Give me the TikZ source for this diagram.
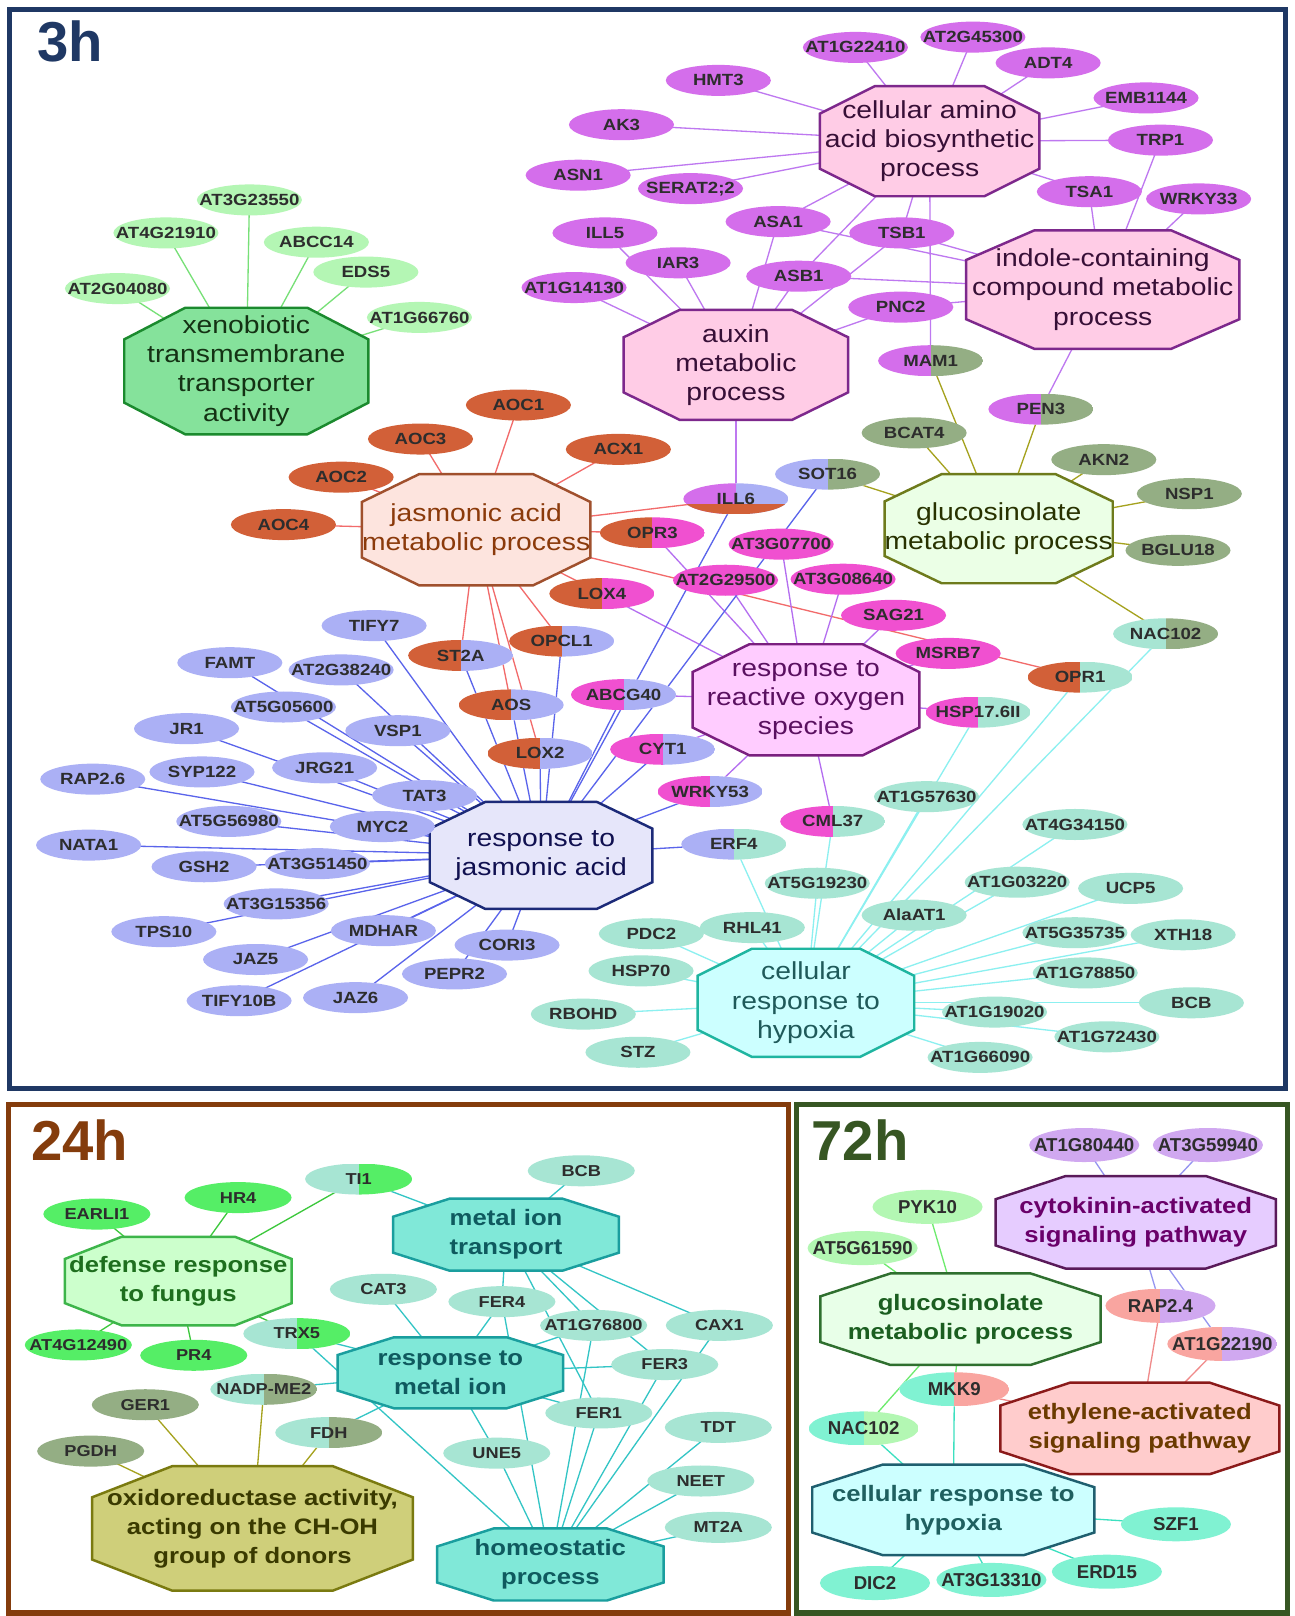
\documentclass[tikz,border=0pt]{standalone}
\usepackage{fontspec}
\setmainfont{Liberation Sans}
\newfontfamily\widesans[FakeStretch=1.15]{Liberation Sans}
\usetikzlibrary{shapes.geometric, calc}

\pgfdeclarelayer{bg}
\pgfdeclarelayer{edges}
\pgfdeclarelayer{octs}
\pgfsetlayers{bg,edges,octs,main}

% frame colours
\definecolor{navy}{RGB}{31,56,100}
\definecolor{brownfr}{RGB}{132,60,12}
\definecolor{greenfr}{RGB}{55,86,35}
\definecolor{genetxt}{RGB}{45,45,45}
% gene colours
\definecolor{purp}{RGB}{212,110,235}
\definecolor{xgreen}{RGB}{180,246,180}
\definecolor{orng}{RGB}{210,96,56}
\definecolor{mag}{RGB}{240,80,208}
\definecolor{lav}{RGB}{171,176,245}
\definecolor{aqgene}{RGB}{167,229,211}
\definecolor{sage}{RGB}{148,174,132}
\definecolor{brgreen}{RGB}{85,238,102}
\definecolor{lilac}{RGB}{208,168,240}
\definecolor{paleg}{RGB}{179,247,179}
\definecolor{salmon}{RGB}{249,165,160}
\definecolor{aqua}{RGB}{128,242,210}
% line colours
\definecolor{xenoln}{RGB}{119,224,119}
\definecolor{purpln}{RGB}{190,120,240}
\definecolor{redln}{RGB}{242,107,107}
\definecolor{oliveln}{RGB}{165,162,30}
\definecolor{violn}{RGB}{180,110,240}
\definecolor{blueln}{RGB}{90,100,235}
\definecolor{cyanln}{RGB}{140,240,240}
\definecolor{greenln}{RGB}{60,200,60}
\definecolor{tealln}{RGB}{51,197,197}
\definecolor{lilacln}{RGB}{150,150,240}
\definecolor{lgreenln}{RGB}{110,235,110}
\definecolor{salmonln}{RGB}{240,138,138}
\definecolor{aqualn}{RGB}{60,224,192}
% octagon colours
\definecolor{pinkfill}{RGB}{255,204,230}\definecolor{pinkbd}{RGB}{125,40,140}\definecolor{pinktx}{RGB}{55,15,55}
\definecolor{xenofill}{RGB}{133,226,155}\definecolor{xenobd}{RGB}{27,138,46}\definecolor{xenotx}{RGB}{20,50,20}
\definecolor{jamfill}{RGB}{253,228,222}\definecolor{jambd}{RGB}{160,80,45}\definecolor{jamtx}{RGB}{139,58,11}
\definecolor{glufill}{RGB}{235,255,230}\definecolor{glubd}{RGB}{110,123,28}\definecolor{glutx}{RGB}{40,50,0}
\definecolor{rosfill}{RGB}{255,204,255}\definecolor{rosbd}{RGB}{122,31,127}\definecolor{rostx}{RGB}{90,16,96}
\definecolor{rjafill}{RGB}{230,230,250}\definecolor{rjabd}{RGB}{28,42,120}\definecolor{rjatx}{RGB}{16,16,80}
\definecolor{hypfill}{RGB}{204,255,255}\definecolor{hypbd}{RGB}{31,181,160}\definecolor{hyptx}{RGB}{31,90,90}
\definecolor{drffill}{RGB}{204,255,204}\definecolor{drfbd}{RGB}{61,181,74}\definecolor{drftx}{RGB}{30,110,30}
\definecolor{metfill}{RGB}{128,232,216}\definecolor{metbd}{RGB}{26,158,158}\definecolor{mettx}{RGB}{15,90,95}
\definecolor{oxrfill}{RGB}{207,207,122}\definecolor{oxrbd}{RGB}{122,122,16}\definecolor{oxrtx}{RGB}{58,58,0}
\definecolor{cytfill}{RGB}{230,204,255}\definecolor{cytbd}{RGB}{90,26,90}\definecolor{cyttx}{RGB}{106,0,106}
\definecolor{gsfill}{RGB}{232,255,232}\definecolor{gsbd}{RGB}{47,111,47}\definecolor{gstx}{RGB}{27,94,32}
\definecolor{ethfill}{RGB}{255,204,204}\definecolor{ethbd}{RGB}{139,26,26}\definecolor{ethtx}{RGB}{107,58,0}
\definecolor{hxfill}{RGB}{204,255,255}\definecolor{hxbd}{RGB}{31,95,111}\definecolor{hxtx}{RGB}{31,96,96}

\tikzset{
  gene/.style={ellipse, fill=#1, minimum width=2.1cm, minimum height=0.62cm,
    inner xsep=-2cm, inner ysep=0pt, outer sep=0pt, text=genetxt,
    font=\widesans\bfseries\fontsize{9.2}{9.2}\selectfont},
  split/.style 2 args={gene=white, path picture={
    \fill[#1] (path picture bounding box.south west) rectangle (path picture bounding box.north);
    \fill[#2] (path picture bounding box.south) rectangle (path picture bounding box.north east);}},
  g24/.style={minimum width=2.14cm, minimum height=0.62cm, font=\widesans\bfseries\fontsize{9}{9}\selectfont},
  g72/.style={minimum width=2.2cm, minimum height=0.68cm, font=\bfseries\fontsize{10.6}{10.6}\selectfont},
  proc/.style={rectangle, inner sep=0pt, outer sep=0pt, align=center,
    font=\widesans\fontsize{14}{16.6}\selectfont},
  procb/.style={proc, font=\widesans\bfseries\fontsize{12.7}{16.5}\selectfont},
  link/.style={draw=#1, line width=0.75pt},
  title/.style={anchor=base west, inner sep=0pt, text=#1, font=\bfseries\fontsize{32}{32}\selectfont}
}

% octagon round a named node: name, fill, border
\newcommand{\octo}[3]{%
  \begin{pgfonlayer}{octs}
  \path[fill=#2, draw=#3, line width=1.4pt]
    ($(#1.north west)!.25!(#1.north east)$) -- ($(#1.north west)!.75!(#1.north east)$)
    -- ($(#1.north east)!.25!(#1.south east)$) -- ($(#1.north east)!.75!(#1.south east)$)
    -- ($(#1.south east)!.25!(#1.south west)$) -- ($(#1.south east)!.75!(#1.south west)$)
    -- ($(#1.south west)!.25!(#1.north west)$) -- ($(#1.south west)!.75!(#1.north west)$) -- cycle;
  \end{pgfonlayer}}

\begin{document}
\begin{tikzpicture}[x=0.0206cm, y=-0.0206cm]
  \useasboundingbox (0,0) rectangle (1256,1568);
  \begin{pgfonlayer}{bg}
    \fill[white] (0,0) rectangle (1256,1568);
  \end{pgfonlayer}

  % Panel frames and titles
  \draw[line width=3pt, navy] (9,9) rectangle (1247,1056);
  \draw[line width=3pt, brownfr] (8,1072) rectangle (765,1565);
  \draw[line width=3pt, greenfr] (773,1072) rectangle (1249,1565);
  \node[title=navy] (t3) at (36,60) {3h};
  \node[title=brownfr] (t24) at (30,1126) {24h};
  \node[title=greenfr] (t72) at (787,1126) {72h};

  % ---------------- 3h ----------------
  % Process octagons
  \node[proc, text=pinktx, minimum width=4.39cm, minimum height=2.20cm] (aa) at (902,137) {cellular amino\\acid biosynthetic\\process};
  \octo{aa}{pinkfill}{pinkbd}
  \node[proc, text=pinktx, minimum width=5.46cm, minimum height=2.37cm] (ind) at (1070,281) {indole-containing\\compound metabolic\\process};
  \octo{ind}{pinkfill}{pinkbd}
  \node[proc, text=pinktx, minimum width=4.49cm, minimum height=2.20cm] (aux) at (714,354) {auxin\\metabolic\\process};
  \octo{aux}{pinkfill}{pinkbd}
  \node[proc, text=xenotx, minimum width=4.88cm, minimum height=2.53cm] (xeno) at (239,360) {xenobiotic\\transmembrane\\transporter\\activity};
  \octo{xeno}{xenofill}{xenobd}
  \node[proc, text=jamtx, minimum width=4.57cm, minimum height=2.22cm] (jam) at (462,514) {jasmonic acid\\metabolic process};
  \octo{jam}{jamfill}{jambd}
  \node[proc, text=glutx, minimum width=4.53cm, minimum height=2.18cm] (glu) at (969,513) {glucosinolate\\metabolic process};
  \octo{glu}{glufill}{glubd}
  \node[proc, text=rostx, minimum width=4.53cm, minimum height=2.22cm] (ros) at (782,679) {response to\\reactive oxygen\\species};
  \octo{ros}{rosfill}{rosbd}
  \node[proc, text=rjatx, minimum width=4.45cm, minimum height=2.14cm] (rja) at (525,830) {response to\\jasmonic acid};
  \octo{rja}{rjafill}{rjabd}
  \node[proc, text=hyptx, minimum width=4.33cm, minimum height=2.16cm] (hyp) at (782,973) {cellular\\response to\\hypoxia};
  \octo{hyp}{hypfill}{hypbd}

  % Amino acid / indole / auxin genes
  \node[gene=purp] (at1g22410) at (830,46) {AT1G22410};
  \node[gene=purp] (at2g45300) at (944,36) {AT2G45300};
  \node[gene=purp] (adt4) at (1017,61) {ADT4};
  \node[gene=purp] (hmt3) at (697,78) {HMT3};
  \node[gene=purp] (emb1144) at (1112,95) {EMB1144};
  \node[gene=purp] (ak3) at (603,121) {AK3};
  \node[gene=purp] (trp1) at (1126,136) {TRP1};
  \node[gene=purp] (asn1) at (561,170) {ASN1};
  \node[gene=purp] (serat22) at (670,183) {SERAT2;2};
  \node[gene=purp] (tsa1) at (1057,186) {TSA1};
  \node[gene=purp] (wrky33) at (1163,193) {WRKY33};
  \node[gene=purp] (asa1) at (755,215) {ASA1};
  \node[gene=purp] (tsb1) at (875,226) {TSB1};
  \node[gene=purp] (ill5) at (587,226) {ILL5};
  \node[gene=purp] (iar3) at (658,255) {IAR3};
  \node[gene=purp] (asb1) at (775,268) {ASB1};
  \node[gene=purp] (at1g14130) at (557,279) {AT1G14130};
  \node[gene=purp] (pnc2) at (874,298) {PNC2};
  \node[split={purp}{sage}] (mam1) at (903,350) {MAM1};
  \node[split={purp}{sage}] (pen3) at (1010,397) {PEN3};

  % Xenobiotic genes
  \node[gene=xgreen] (at3g23550) at (242,194) {AT3G23550};
  \node[gene=xgreen] (at4g21910) at (161,226) {AT4G21910};
  \node[gene=xgreen] (abcc14) at (307,235) {ABCC14};
  \node[gene=xgreen] (eds5) at (355,264) {EDS5};
  \node[gene=xgreen] (at2g04080) at (114,280) {AT2G04080};
  \node[gene=xgreen] (at1g66760) at (407,308) {AT1G66760};

  % Jasmonic acid metabolic genes
  \node[gene=orng] (aoc1) at (503,393) {AOC1};
  \node[gene=orng] (aoc3) at (408,426) {AOC3};
  \node[gene=orng] (acx1) at (600,436) {ACX1};
  \node[gene=orng] (aoc2) at (331,463) {AOC2};
  \node[gene=orng] (aoc4) at (275,509) {AOC4};
  \node[gene=white, path picture={
      \fill[purp] (path picture bounding box.south west) rectangle (path picture bounding box.north);
      \fill[lav] (path picture bounding box.south) rectangle (path picture bounding box.north east);
      \fill[orng] (path picture bounding box.south west) rectangle ([yshift=-0.1cm]path picture bounding box.east);}]
    (ill6) at (714,484) {ILL6};
  \node[split={orng}{mag}] (opr3) at (633,517) {OPR3};
  \node[split={orng}{mag}] (lox4) at (584,576) {LOX4};
  \node[split={orng}{lav}] (opcl1) at (545,622) {OPCL1};
  \node[split={orng}{lav}] (st2a) at (447,636) {ST2A};
  \node[split={orng}{lav}] (aos) at (496,684) {AOS};
  \node[split={orng}{lav}] (lox2) at (524,731) {LOX2};

  % Glucosinolate genes
  \node[gene=sage] (bcat4) at (887,420) {BCAT4};
  \node[gene=sage] (akn2) at (1071,446) {AKN2};
  \node[gene=sage] (nsp1) at (1154,479) {NSP1};
  \node[gene=sage] (bglu18) at (1143,534) {BGLU18};
  \node[split={lav}{sage}] (sot16) at (803,460) {SOT16};
  \node[split={aqgene}{sage}] (nac102) at (1131,615) {NAC102};
  \node[split={orng}{aqgene}] (opr1) at (1048,657) {OPR1};

  % Reactive oxygen genes
  \node[gene=mag] (at3g07700) at (758,528) {AT3G07700};
  \node[gene=mag] (at2g29500) at (704,563) {AT2G29500};
  \node[gene=mag] (at3g08640) at (818,562) {AT3G08640};
  \node[gene=mag] (sag21) at (867,597) {SAG21};
  \node[gene=mag] (msrb7) at (920,634) {MSRB7};
  \node[split={mag}{lav}] (abcg40) at (605,674) {ABCG40};
  \node[split={mag}{aqgene}] (hsp176ii) at (949,691) {HSP17.6II};
  \node[split={mag}{lav}] (cyt1) at (643,727) {CYT1};
  \node[split={mag}{lav}] (wrky53) at (689,768) {WRKY53};
  \node[split={mag}{aqgene}] (cml37) at (808,797) {CML37};

  % Jasmonic acid response genes
  \node[gene=lav] (tify7) at (363,607) {TIFY7};
  \node[gene=lav] (famt) at (223,643) {FAMT};
  \node[gene=lav] (at2g38240) at (331,650) {AT2G38240};
  \node[gene=lav] (at5g05600) at (275,686) {AT5G05600};
  \node[gene=lav] (jr1) at (181,707) {JR1};
  \node[gene=lav] (vsp1) at (386,709) {VSP1};
  \node[gene=lav] (jrg21) at (315,745) {JRG21};
  \node[gene=lav] (syp122) at (196,749) {SYP122};
  \node[gene=lav] (rap26) at (90,756) {RAP2.6};
  \node[gene=lav] (tat3) at (412,772) {TAT3};
  \node[gene=lav] (at5g56980) at (222,797) {AT5G56980};
  \node[gene=lav] (myc2) at (371,802) {MYC2};
  \node[gene=lav] (nata1) at (86,820) {NATA1};
  \node[gene=lav] (gsh2) at (198,841) {GSH2};
  \node[gene=lav] (at3g51450) at (308,838) {AT3G51450};
  \node[gene=lav] (at3g15356) at (268,877) {AT3G15356};
  \node[gene=lav] (mdhar) at (372,903) {MDHAR};
  \node[gene=lav] (tps10) at (159,904) {TPS10};
  \node[gene=lav] (cori3) at (492,917) {CORI3};
  \node[gene=lav] (jaz5) at (248,931) {JAZ5};
  \node[gene=lav] (pepr2) at (441,945) {PEPR2};
  \node[gene=lav] (jaz6) at (345,968) {JAZ6};
  \node[gene=lav] (tify10b) at (232,971) {TIFY10B};
  \node[split={lav}{aqgene}] (erf4) at (712,819) {ERF4};

  % Hypoxia genes
  \node[gene=aqgene] (at1g57630) at (899,773) {AT1G57630};
  \node[gene=aqgene] (at4g34150) at (1043,800) {AT4G34150};
  \node[gene=aqgene] (at5g19230) at (793,857) {AT5G19230};
  \node[gene=aqgene] (ucp5) at (1097,862) {UCP5};
  \node[gene=aqgene] (at1g03220) at (987,856) {AT1G03220};
  \node[gene=aqgene] (alaat1) at (887,888) {AlaAT1};
  \node[gene=aqgene] (rhl41) at (730,900) {RHL41};
  \node[gene=aqgene] (pdc2) at (632,906) {PDC2};
  \node[gene=aqgene] (xth18) at (1148,907) {XTH18};
  \node[gene=aqgene] (at5g35735) at (1043,905) {AT5G35735};
  \node[gene=aqgene] (hsp70) at (622,942) {HSP70};
  \node[gene=aqgene] (at1g78850) at (1053,944) {AT1G78850};
  \node[gene=aqgene] (bcb) at (1156,973) {BCB};
  \node[gene=aqgene] (at1g19020) at (965,982) {AT1G19020};
  \node[gene=aqgene] (rbohd) at (566,984) {RBOHD};
  \node[gene=aqgene] (at1g72430) at (1074,1006) {AT1G72430};
  \node[gene=aqgene] (stz) at (619,1021) {STZ};
  \node[gene=aqgene] (at1g66090) at (951,1026) {AT1G66090};

  % ---------------- 24h ----------------
  \node[procb, text=drftx, minimum width=4.53cm, minimum height=1.77cm] (drf) at (173,1243) {defense response\\to fungus};
  \octo{drf}{drffill}{drfbd}
  \node[procb, text=oxrtx, minimum width=6.41cm, minimum height=2.49cm] (oxr) at (245,1483) {oxidoreductase activity,\\acting on the CH-OH\\group of donors};
  \octo{oxr}{oxrfill}{oxrbd}
  \node[procb, text=mettx, minimum width=4.51cm, minimum height=1.44cm] (mit) at (491,1198) {metal ion\\transport};
  \octo{mit}{metfill}{metbd}
  \node[procb, text=mettx, minimum width=4.51cm, minimum height=1.42cm] (rmi) at (437,1332) {response to\\metal ion};
  \octo{rmi}{metfill}{metbd}
  \node[procb, text=mettx, minimum width=4.53cm, minimum height=1.44cm] (hom) at (534,1518) {homeostatic\\process};
  \octo{hom}{metfill}{metbd}

  \node[gene=brgreen, g24] (earli1) at (94,1178) {EARLI1};
  \node[gene=brgreen, g24] (hr4) at (231,1162) {HR4};
  \node[gene=brgreen, g24] (at4g12490) at (76,1305) {AT4G12490};
  \node[gene=brgreen, g24] (pr4) at (188,1315) {PR4};
  \node[split={aqgene}{brgreen}, g24] (ti1) at (348,1144) {TI1};
  \node[split={aqgene}{brgreen}, g24] (trx5) at (288,1294) {TRX5};
  \node[gene=aqgene, g24] (bcb-24) at (564,1136) {BCB};
  \node[gene=aqgene, g24] (cat3) at (372,1251) {CAT3};
  \node[gene=aqgene, g24] (fer4) at (487,1263) {FER4};
  \node[gene=aqgene, g24] (at1g76800) at (576,1286) {AT1G76800};
  \node[gene=aqgene, g24] (cax1) at (698,1286) {CAX1};
  \node[gene=aqgene, g24] (fer3) at (645,1324) {FER3};
  \node[gene=aqgene, g24] (fer1) at (581,1371) {FER1};
  \node[gene=aqgene, g24] (tdt) at (697,1385) {TDT};
  \node[gene=aqgene, g24] (une5) at (482,1410) {UNE5};
  \node[gene=aqgene, g24] (neet) at (680,1437) {NEET};
  \node[gene=aqgene, g24] (mt2a) at (697,1482) {MT2A};
  \node[split={aqgene}{sage}, g24] (nadpme2) at (256,1348) {NADP-ME2};
  \node[split={aqgene}{sage}, g24] (fdh) at (319,1390) {FDH};
  \node[gene=sage, g24] (ger1) at (141,1363) {GER1};
  \node[gene=sage, g24] (pgdh) at (88,1408) {PGDH};

  % ---------------- 72h ----------------
  \node[procb, text=cyttx, minimum width=5.60cm, minimum height=1.85cm] (cyt) at (1102,1186) {cytokinin-activated\\signaling pathway};
  \octo{cyt}{cytfill}{cytbd}
  \node[procb, text=gstx, minimum width=5.60cm, minimum height=1.83cm] (glu-72) at (932,1280) {glucosinolate\\metabolic process};
  \octo{glu-72}{gsfill}{gsbd}
  \node[procb, text=ethtx, minimum width=5.58cm, minimum height=1.83cm] (eth) at (1106,1386) {ethylene-activated\\signaling pathway};
  \octo{eth}{ethfill}{ethbd}
  \node[procb, text=hxtx, minimum width=5.64cm, minimum height=1.81cm] (hyp-72) at (925,1465) {cellular response to\\hypoxia};
  \octo{hyp-72}{hxfill}{hxbd}

  \node[gene=lilac, g72] (at1g80440) at (1052,1111) {AT1G80440};
  \node[gene=lilac, g72] (at3g59940) at (1172,1111) {AT3G59940};
  \node[gene=paleg, g72] (pyk10) at (900,1171) {PYK10};
  \node[gene=paleg, g72] (at5g61590) at (837,1211) {AT5G61590};
  \node[split={salmon}{lilac}, g72] (rap24) at (1126,1267) {RAP2.4};
  \node[split={salmon}{lilac}, g72] (at1g22190) at (1186,1304) {AT1G22190};
  \node[split={aqua}{salmon}, g72] (mkk9) at (926,1348) {MKK9};
  \node[split={aqua}{paleg}, g72] (nac102-72) at (838,1386) {NAC102};
  \node[gene=aqua, g72] (szf1) at (1141,1479) {SZF1};
  \node[gene=aqua, g72] (dic2) at (849,1536) {DIC2};
  \node[gene=aqua, g72] (at3g13310) at (962,1533) {AT3G13310};
  \node[gene=aqua, g72] (erd15) at (1074,1525) {ERD15};

  % Draw the edges behind everything
  \begin{pgfonlayer}{edges}
    \foreach \g in {at3g23550,at4g21910,abcc14,eds5,at2g04080,at1g66760}
      \draw[link=xenoln] (xeno.center) -- (\g.center);
    \foreach \g in {at1g22410,at2g45300,adt4,hmt3,emb1144,ak3,trp1,asn1,serat22,tsa1,asa1,asb1,tsb1,mam1}
      \draw[link=purpln] (aa.center) -- (\g.center);
    \foreach \g in {trp1,tsa1,wrky33,tsb1,asa1,asb1,pnc2,pen3}
      \draw[link=purpln] (ind.center) -- (\g.center);
    \foreach \g in {ill5,iar3,at1g14130,asa1,asb1,tsb1,pnc2,ill6}
      \draw[link=purpln] (aux.center) -- (\g.center);
    \foreach \g in {aoc1,aoc3,acx1,aoc2,aoc4,ill6,opr3,lox4,opcl1,st2a,aos,lox2,opr1}
      \draw[link=redln] (jam.center) -- (\g.center);
    \foreach \g in {mam1,bcat4,pen3,akn2,nsp1,bglu18,sot16,nac102}
      \draw[link=oliveln] (glu.center) -- (\g.center);
    \foreach \g in {opr3,at2g29500,at3g07700,at3g08640,sag21,msrb7,lox4,abcg40,hsp176ii,cyt1,wrky53,cml37}
      \draw[link=violn] (ros.center) -- (\g.center);
    \foreach \g in {tify7,famt,at2g38240,at5g05600,vsp1,jr1,jrg21,syp122,rap26,tat3,at5g56980,myc2,nata1,gsh2,at3g51450,at3g15356,tps10,mdhar,cori3,jaz5,pepr2,tify10b,jaz6,st2a,aos,lox2,opcl1,abcg40,cyt1,wrky53,erf4,ill6,sot16}
      \draw[link=blueln] (rja.center) -- (\g.center);
    \foreach \g in {at1g57630,at4g34150,at5g19230,at1g03220,ucp5,alaat1,rhl41,pdc2,at5g35735,xth18,hsp70,at1g78850,rbohd,bcb,at1g19020,at1g72430,stz,at1g66090,erf4,cml37,hsp176ii,opr1,nac102}
      \draw[link=cyanln] (hyp.center) -- (\g.center);
    % 24h
    \foreach \g in {earli1,hr4,ti1,at4g12490,pr4,trx5}
      \draw[link=greenln] (drf.center) -- (\g.center);
    \foreach \g in {ti1,bcb-24,fer4,at1g76800,fer3,fer1,cax1}
      \draw[link=tealln] (mit.center) -- (\g.center);
    \foreach \g in {cat3,trx5,nadpme2,fdh,fer4,at1g76800,fer3,fer1,une5}
      \draw[link=tealln] (rmi.center) -- (\g.center);
    \foreach \g in {trx5,une5,fer4,fer1,at1g76800,fer3,cax1,tdt,neet,mt2a}
      \draw[link=tealln] (hom.center) -- (\g.center);
    \foreach \g in {ger1,pgdh,nadpme2,fdh}
      \draw[link=oliveln] (oxr.center) -- (\g.center);
    % 72h
    \foreach \g in {at1g80440,at3g59940,rap24,at1g22190}
      \draw[link=lilacln] (cyt.center) -- (\g.center);
    \foreach \g in {pyk10,at5g61590,mkk9,nac102-72}
      \draw[link=lgreenln] (glu-72.center) -- (\g.center);
    \foreach \g in {rap24,at1g22190,mkk9}
      \draw[link=salmonln] (eth.center) -- (\g.center);
    \foreach \g in {nac102-72,mkk9,szf1,dic2,at3g13310,erd15}
      \draw[link=aqualn] (hyp-72.center) -- (\g.center);
  \end{pgfonlayer}
\end{tikzpicture}
\end{document}
